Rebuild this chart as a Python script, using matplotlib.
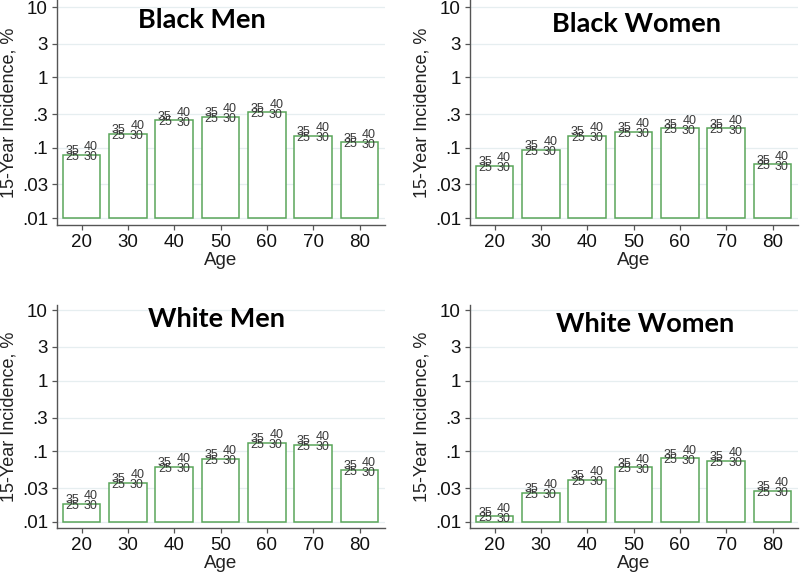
import numpy as np
import matplotlib.pyplot as plt
from matplotlib.ticker import FixedLocator, NullLocator

ages = [20, 30, 40, 50, 60, 70, 80]
black_men = [0.079, 0.158, 0.245, 0.275, 0.319, 0.147, 0.120]
black_women = [0.055, 0.094, 0.148, 0.169, 0.189, 0.189, 0.058]
white_men = [0.018, 0.0356, 0.060, 0.078, 0.131, 0.123, 0.054]
white_women = [0.0119, 0.0257, 0.0393, 0.0588, 0.0796, 0.073, 0.0274]

yticks = [0.01, 0.03, 0.1, 0.3, 1, 3, 10]
ytick_labels = [".01", ".03", ".1", ".3", "1", "3", "10"]
point_labels = ["25", "30", "35", "40"]
# offsets (points) of the scenario labels around the bar top
label_offsets = [(-6.8, -1.4), (6.5, -1.8), (-6.8, 2.6), (6.8, 5.4)]

panels = [
    ("Black Men", black_men, [0.07125, 0.610, 0.41, 0.390], (0.00795, 12.58), (202, 28.3)),
    ("Black Women", black_women, [0.5875, 0.610, 0.41, 0.390], (0.00795, 12.58), (637, 31.7)),
    ("White Men", white_men, [0.07125, 0.0849, 0.41, 0.3865], (0.00815, 11.8), (217, 326.7)),
    ("White Women", white_women, [0.5875, 0.0849, 0.41, 0.3865], (0.00815, 11.8), (645, 331.7)),
]

plt.rcParams['font.family'] = ['Liberation Sans', 'DejaVu Sans']

fig = plt.figure(figsize=(8, 5.77), dpi=100)
W, H = 800, 577

for title, vals, rect, ylim, tpos in panels:
    ax = fig.add_axes(rect)
    ax.set_yscale('log')
    ax.set_ylim(*ylim)
    ax.set_xlim(14.7, 85.5)
    bottom = 0.01
    ax.bar(ages, np.array(vals) - bottom, bottom=bottom, width=8.1,
           facecolor='white', edgecolor='#5aa65a', linewidth=1.1, zorder=3)
    for a, v in zip(ages, vals):
        for lab, (dx, dy) in zip(point_labels, label_offsets):
            ax.annotate(lab, (a, v), xytext=(dx, dy), textcoords='offset points',
                        ha='center', va='center', fontsize=9, color='#3a3a3a', zorder=4)
    ax.yaxis.set_major_locator(FixedLocator(yticks))
    ax.yaxis.set_minor_locator(NullLocator())
    ax.set_yticklabels(ytick_labels)
    ax.set_xticks(ages)
    ax.grid(axis='y', color='#e6eef0', linewidth=0.9, zorder=0)
    ax.set_axisbelow(True)
    for s in ['top', 'right']:
        ax.spines[s].set_visible(False)
    for s in ['left', 'bottom']:
        ax.spines[s].set_color('#555555')
        ax.spines[s].set_linewidth(1.0)
    ax.tick_params(axis='both', labelsize=13.5, length=3.5, width=0.9,
                   color='#555555', pad=3, labelcolor='#111111')
    ax.set_xlabel('Age', fontsize=13.5, labelpad=1, color='#222222')
    ax.set_ylabel('15-Year Incidence, %', fontsize=13, labelpad=3, color='#222222')
    fig.text(tpos[0] / W, 1 - tpos[1] / H, title, ha='center', va='baseline',
             fontsize=19.5, fontweight='bold', family=['Lato', 'DejaVu Sans'], color='black')

fig.savefig('out.png', dpi=100, facecolor='white')
